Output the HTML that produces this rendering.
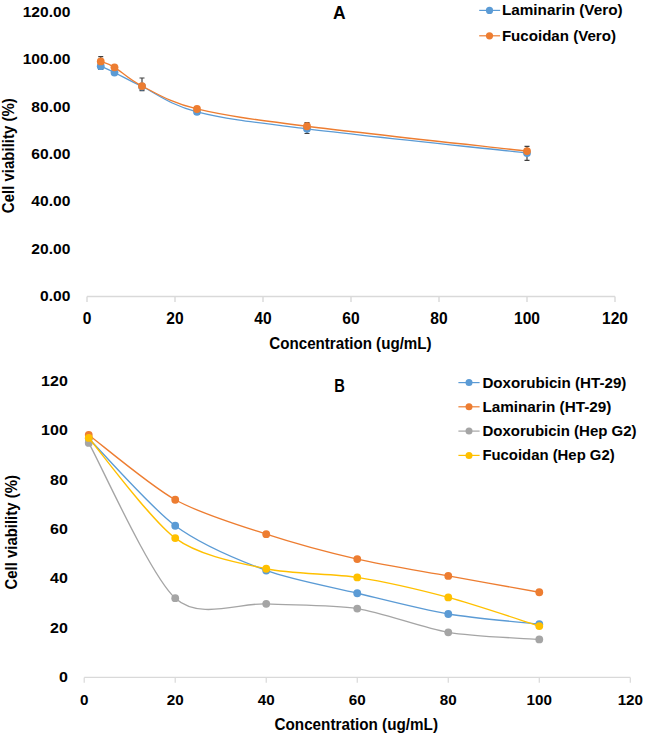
<!DOCTYPE html>
<html><head><meta charset="utf-8"><style>
html,body{margin:0;padding:0;background:#fff;width:645px;height:737px;overflow:hidden;}
svg{display:block;}
text{fill:#000;font-family:"Liberation Sans",sans-serif;font-weight:bold;}
</style></head><body>
<svg width="645" height="737" viewBox="0 0 645 737">
<path d="M87,296.5 H615" stroke="#D9D9D9" stroke-width="1.6" fill="none"/>
<path d="M87,296.5 V302" stroke="#D9D9D9" stroke-width="1.4" fill="none"/>
<path d="M175,296.5 V302" stroke="#D9D9D9" stroke-width="1.4" fill="none"/>
<path d="M263,296.5 V302" stroke="#D9D9D9" stroke-width="1.4" fill="none"/>
<path d="M351,296.5 V302" stroke="#D9D9D9" stroke-width="1.4" fill="none"/>
<path d="M439,296.5 V302" stroke="#D9D9D9" stroke-width="1.4" fill="none"/>
<path d="M527,296.5 V302" stroke="#D9D9D9" stroke-width="1.4" fill="none"/>
<path d="M615,296.5 V302" stroke="#D9D9D9" stroke-width="1.4" fill="none"/>
<text x="87" y="324.3" text-anchor="middle" font-size="15.6">0</text>
<text x="175" y="324.3" text-anchor="middle" font-size="15.6">20</text>
<text x="263" y="324.3" text-anchor="middle" font-size="15.6">40</text>
<text x="351" y="324.3" text-anchor="middle" font-size="15.6">60</text>
<text x="439" y="324.3" text-anchor="middle" font-size="15.6">80</text>
<text x="527" y="324.3" text-anchor="middle" font-size="15.6">100</text>
<text x="615" y="324.3" text-anchor="middle" font-size="15.6">120</text>
<text x="70.4" y="300.9" text-anchor="end" font-size="14.7" textLength="30.36" lengthAdjust="spacingAndGlyphs">0.00</text>
<text x="70.4" y="253.57" text-anchor="end" font-size="14.7" textLength="39.03" lengthAdjust="spacingAndGlyphs">20.00</text>
<text x="70.4" y="206.24" text-anchor="end" font-size="14.7" textLength="39.03" lengthAdjust="spacingAndGlyphs">40.00</text>
<text x="70.4" y="158.91" text-anchor="end" font-size="14.7" textLength="39.03" lengthAdjust="spacingAndGlyphs">60.00</text>
<text x="70.4" y="111.58" text-anchor="end" font-size="14.7" textLength="39.03" lengthAdjust="spacingAndGlyphs">80.00</text>
<text x="70.4" y="64.25" text-anchor="end" font-size="14.7" textLength="47.7" lengthAdjust="spacingAndGlyphs">100.00</text>
<text x="70.4" y="16.92" text-anchor="end" font-size="14.7" textLength="47.7" lengthAdjust="spacingAndGlyphs">120.00</text>
<text x="339.3" y="19.4" text-anchor="middle" font-size="17.5">A</text>
<text x="269.3" y="349.1" font-size="15.6" textLength="162.3" lengthAdjust="spacingAndGlyphs">Concentration (ug/mL)</text>
<text transform="translate(13.8,213.2) rotate(-90)" x="0" y="0" font-size="15.6" textLength="115" lengthAdjust="spacingAndGlyphs">Cell viability (%)</text>
<path d="M98.25,56.6 H103.25 M98.25,69.4 H103.25 M100.75,56.6 V69.4" stroke="#404040" stroke-width="1.2" fill="none"/>
<path d="M139.5,78 H144.5 M139.5,90.7 H144.5 M142,78 V90.7" stroke="#404040" stroke-width="1.2" fill="none"/>
<path d="M194.5,107.5 H199.5 M194.5,114.5 H199.5 M197,107.5 V114.5" stroke="#404040" stroke-width="1.2" fill="none"/>
<path d="M304.5,122.7 H309.5 M304.5,133.5 H309.5 M307,122.7 V133.5" stroke="#404040" stroke-width="1.2" fill="none"/>
<path d="M524.5,146.4 H529.5 M524.5,160.4 H529.5 M527,146.4 V160.4" stroke="#404040" stroke-width="1.2" fill="none"/>
<path d="M100.75,66.15 C103.04,67.21 107.62,69.15 114.5,72.54 C121.38,75.93 128.25,79.95 142,86.5 C155.75,93.05 169.5,104.76 197,111.82 C224.5,118.88 252,122 307,128.86 C362,135.72 490.33,148.98 527,153" stroke="#5B9BD5" stroke-width="1.3" fill="none" stroke-linejoin="round"/>
<circle cx="100.75" cy="66.15" r="3.9" fill="#5B9BD5"/>
<circle cx="114.5" cy="72.54" r="3.9" fill="#5B9BD5"/>
<circle cx="142" cy="86.5" r="3.9" fill="#5B9BD5"/>
<circle cx="197" cy="111.82" r="3.9" fill="#5B9BD5"/>
<circle cx="307" cy="128.86" r="3.9" fill="#5B9BD5"/>
<circle cx="527" cy="153" r="3.9" fill="#5B9BD5"/>
<path d="M100.75,61.42 C103.04,62.4 107.62,63.23 114.5,67.33 C121.38,71.43 128.25,79.09 142,86.03 C155.75,92.97 169.5,102.28 197,108.98 C224.5,115.69 252,119.24 307,126.26 C362,133.28 490.33,146.97 527,151.11" stroke="#ED7D31" stroke-width="1.3" fill="none" stroke-linejoin="round"/>
<circle cx="100.75" cy="61.42" r="3.9" fill="#ED7D31"/>
<circle cx="114.5" cy="67.33" r="3.9" fill="#ED7D31"/>
<circle cx="142" cy="86.03" r="3.9" fill="#ED7D31"/>
<circle cx="197" cy="108.98" r="3.9" fill="#ED7D31"/>
<circle cx="307" cy="126.26" r="3.9" fill="#ED7D31"/>
<circle cx="527" cy="151.11" r="3.9" fill="#ED7D31"/>
<path d="M479.2,10.4 H500.1" stroke="#5B9BD5" stroke-width="1.2"/>
<circle cx="489.5" cy="10.4" r="3.6" fill="#5B9BD5"/>
<text x="501.9" y="15.4" font-size="14.4" textLength="120.7" lengthAdjust="spacingAndGlyphs">Laminarin (Vero)</text>
<path d="M479.2,35.8 H500.1" stroke="#ED7D31" stroke-width="1.2"/>
<circle cx="489.5" cy="35.8" r="3.6" fill="#ED7D31"/>
<text x="501.9" y="40.8" font-size="14.4" textLength="114.1" lengthAdjust="spacingAndGlyphs">Fucoidan (Vero)</text>
<path d="M84.2,677.4 H630.3" stroke="#D9D9D9" stroke-width="1.2" fill="none"/>
<path d="M84.2,677.4 V682.7" stroke="#D9D9D9" stroke-width="1.2" fill="none"/>
<path d="M175.22,677.4 V682.7" stroke="#D9D9D9" stroke-width="1.2" fill="none"/>
<path d="M266.23,677.4 V682.7" stroke="#D9D9D9" stroke-width="1.2" fill="none"/>
<path d="M357.25,677.4 V682.7" stroke="#D9D9D9" stroke-width="1.2" fill="none"/>
<path d="M448.27,677.4 V682.7" stroke="#D9D9D9" stroke-width="1.2" fill="none"/>
<path d="M539.28,677.4 V682.7" stroke="#D9D9D9" stroke-width="1.2" fill="none"/>
<path d="M630.3,677.4 V682.7" stroke="#D9D9D9" stroke-width="1.2" fill="none"/>
<text x="84.2" y="704.9" text-anchor="middle" font-size="15.2">0</text>
<text x="175.22" y="704.9" text-anchor="middle" font-size="15.2">20</text>
<text x="266.23" y="704.9" text-anchor="middle" font-size="15.2">40</text>
<text x="357.25" y="704.9" text-anchor="middle" font-size="15.2">60</text>
<text x="448.27" y="704.9" text-anchor="middle" font-size="15.2">80</text>
<text x="539.28" y="704.9" text-anchor="middle" font-size="15.2">100</text>
<text x="630.3" y="704.9" text-anchor="middle" font-size="15.2">120</text>
<text x="67.8" y="682.3" text-anchor="end" font-size="14.8" textLength="8.9" lengthAdjust="spacingAndGlyphs">0</text>
<text x="67.8" y="632.85" text-anchor="end" font-size="14.8" textLength="17.79" lengthAdjust="spacingAndGlyphs">20</text>
<text x="67.8" y="583.4" text-anchor="end" font-size="14.8" textLength="17.79" lengthAdjust="spacingAndGlyphs">40</text>
<text x="67.8" y="533.95" text-anchor="end" font-size="14.8" textLength="17.79" lengthAdjust="spacingAndGlyphs">60</text>
<text x="67.8" y="484.5" text-anchor="end" font-size="14.8" textLength="17.79" lengthAdjust="spacingAndGlyphs">80</text>
<text x="67.8" y="435.05" text-anchor="end" font-size="14.8" textLength="26.69" lengthAdjust="spacingAndGlyphs">100</text>
<text x="67.8" y="385.6" text-anchor="end" font-size="14.8" textLength="26.69" lengthAdjust="spacingAndGlyphs">120</text>
<text x="334.3" y="392.3" font-size="17.5" textLength="10.6" lengthAdjust="spacingAndGlyphs">B</text>
<text x="274.5" y="729.8" font-size="15.6" textLength="163.5" lengthAdjust="spacingAndGlyphs">Concentration (ug/mL)</text>
<text transform="translate(16.8,589.6) rotate(-90)" x="0" y="0" font-size="15.6" textLength="114.5" lengthAdjust="spacingAndGlyphs">Cell viability (%)</text>
<path d="M88.75,438.46 C100.86,450.68 150.37,507.25 175.22,525.74 C200.06,544.22 240.75,561.04 266.23,570.49 C291.72,579.94 331.77,587.14 357.25,593.23 C382.73,599.33 422.78,609.68 448.27,614 C473.75,618.33 526.54,622.72 539.28,624.14" stroke="#5B9BD5" stroke-width="1.35" fill="none" stroke-linejoin="round"/>
<circle cx="88.75" cy="438.46" r="3.9" fill="#5B9BD5"/>
<circle cx="175.22" cy="525.74" r="3.9" fill="#5B9BD5"/>
<circle cx="266.23" cy="570.49" r="3.9" fill="#5B9BD5"/>
<circle cx="357.25" cy="593.23" r="3.9" fill="#5B9BD5"/>
<circle cx="448.27" cy="614" r="3.9" fill="#5B9BD5"/>
<circle cx="539.28" cy="624.14" r="3.9" fill="#5B9BD5"/>
<path d="M88.75,434.99 C100.86,444.06 150.37,485.89 175.22,499.77 C200.06,513.66 240.75,525.83 266.23,534.14 C291.72,542.45 331.77,553.26 357.25,559.11 C382.73,564.96 422.78,571.29 448.27,575.93 C473.75,580.57 526.54,589.96 539.28,592.25" stroke="#ED7D31" stroke-width="1.35" fill="none" stroke-linejoin="round"/>
<circle cx="88.75" cy="434.99" r="3.9" fill="#ED7D31"/>
<circle cx="175.22" cy="499.77" r="3.9" fill="#ED7D31"/>
<circle cx="266.23" cy="534.14" r="3.9" fill="#ED7D31"/>
<circle cx="357.25" cy="559.11" r="3.9" fill="#ED7D31"/>
<circle cx="448.27" cy="575.93" r="3.9" fill="#ED7D31"/>
<circle cx="539.28" cy="592.25" r="3.9" fill="#ED7D31"/>
<path d="M88.75,442.91 C100.86,464.65 150.37,575.65 175.22,598.18 C200.06,620.71 240.75,602.41 266.23,603.87 C291.72,605.32 331.77,604.58 357.25,608.56 C382.73,612.55 422.78,627.97 448.27,632.3 C473.75,636.63 526.54,638.47 539.28,639.47" stroke="#A5A5A5" stroke-width="1.35" fill="none" stroke-linejoin="round"/>
<circle cx="88.75" cy="442.91" r="3.9" fill="#A5A5A5"/>
<circle cx="175.22" cy="598.18" r="3.9" fill="#A5A5A5"/>
<circle cx="266.23" cy="603.87" r="3.9" fill="#A5A5A5"/>
<circle cx="357.25" cy="608.56" r="3.9" fill="#A5A5A5"/>
<circle cx="448.27" cy="632.3" r="3.9" fill="#A5A5A5"/>
<circle cx="539.28" cy="639.47" r="3.9" fill="#A5A5A5"/>
<path d="M88.75,437.96 C100.86,451.98 150.37,519.79 175.22,538.1 C200.06,556.41 240.75,563.25 266.23,568.76 C291.72,574.26 331.77,573.4 357.25,577.41 C382.73,581.43 422.78,590.62 448.27,597.44 C473.75,604.26 526.54,622.1 539.28,626.12" stroke="#FFC000" stroke-width="1.35" fill="none" stroke-linejoin="round"/>
<circle cx="88.75" cy="437.96" r="3.9" fill="#FFC000"/>
<circle cx="175.22" cy="538.1" r="3.9" fill="#FFC000"/>
<circle cx="266.23" cy="568.76" r="3.9" fill="#FFC000"/>
<circle cx="357.25" cy="577.41" r="3.9" fill="#FFC000"/>
<circle cx="448.27" cy="597.44" r="3.9" fill="#FFC000"/>
<circle cx="539.28" cy="626.12" r="3.9" fill="#FFC000"/>
<path d="M458.4,382.6 H479.6" stroke="#5B9BD5" stroke-width="1.2"/>
<circle cx="469" cy="382.6" r="3.5" fill="#5B9BD5"/>
<text x="482.4" y="387.6" font-size="14.6" textLength="144" lengthAdjust="spacingAndGlyphs">Doxorubicin (HT-29)</text>
<path d="M458.4,406.8 H479.6" stroke="#ED7D31" stroke-width="1.2"/>
<circle cx="469" cy="406.8" r="3.5" fill="#ED7D31"/>
<text x="482.4" y="411.8" font-size="14.6" textLength="129" lengthAdjust="spacingAndGlyphs">Laminarin (HT-29)</text>
<path d="M458.4,431.1 H479.6" stroke="#A5A5A5" stroke-width="1.2"/>
<circle cx="469" cy="431.1" r="3.5" fill="#A5A5A5"/>
<text x="482.4" y="436.1" font-size="14.6" textLength="154.2" lengthAdjust="spacingAndGlyphs">Doxorubicin (Hep G2)</text>
<path d="M458.4,455.4 H479.6" stroke="#FFC000" stroke-width="1.2"/>
<circle cx="469" cy="455.4" r="3.5" fill="#FFC000"/>
<text x="482.4" y="460.4" font-size="14.6" textLength="132.3" lengthAdjust="spacingAndGlyphs">Fucoidan (Hep G2)</text>
</svg>
</body></html>
